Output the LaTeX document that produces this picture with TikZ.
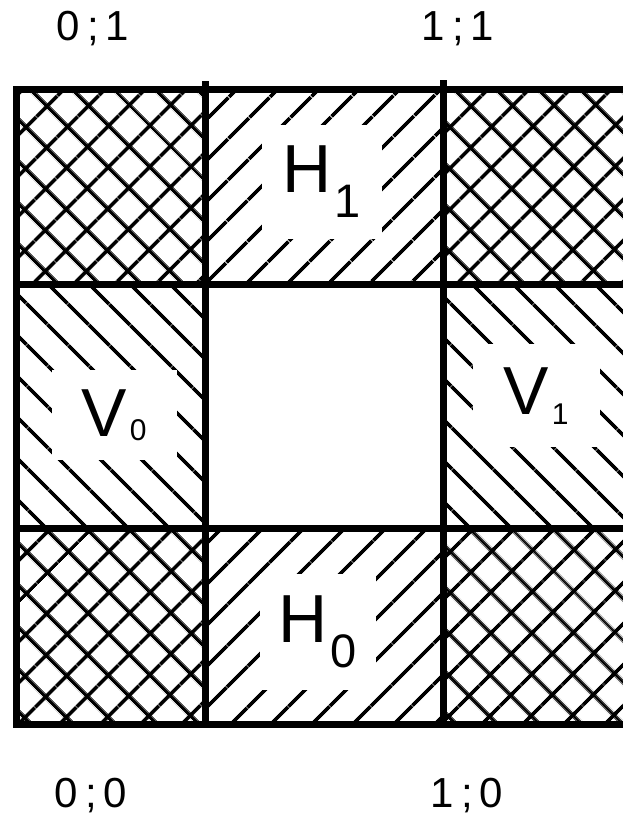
\documentclass[tikz,border=0pt]{standalone}
\usepackage{fontspec}
\setmainfont{Liberation Sans}
\usetikzlibrary{patterns.meta}
\tikzset{
  gridline/.style={line width=7pt, line cap=rect},
  crosshatch/.style={pattern={Hatch[angle=45, distance=30pt, line width=3.8pt]}},
  risehatch/.style={pattern={Lines[angle=45, distance=30pt, line width=3.8pt]}},
  fallhatch/.style={pattern={Lines[angle=-45, distance=30pt, line width=3.8pt]}},
  cellname/.style={fill=white, inner sep=0pt},
  cornerlbl/.style={font=\fontsize{42pt}{42pt}\selectfont, inner sep=0pt},
}
% letter, index, size of index, drop of index
\newcommand{\cellname}[4]{{\fontsize{68pt}{68pt}\selectfont #1}\kern3pt\raisebox{-#4}{\fontsize{#3}{#3}\selectfont #2}}

\begin{document}
\begin{tikzpicture}[x=1pt, y=1pt]
  \clip (0,0) rectangle (623,819);
  \fill[white] (0,0) rectangle (623,819);

  % grid corners
  \coordinate (nw) at (16,729);
  \coordinate (se) at (650,94);

  % corner squares
  \foreach \xa/\xb in {16/205, 443/650}
    \foreach \ya/\yb in {729/534, 290/94}
      \path[crosshatch] (\xa,\ya) rectangle (\xb,\yb);
  % horizontal and vertical strips
  \path[risehatch] (205,729) rectangle (443,534);
  \path[risehatch] (205,290) rectangle (443,94);
  \path[fallhatch] (16,534) rectangle (205,290);
  \path[fallhatch] (443,534) rectangle (650,290);

  % labels in the strips
  \node[cellname, minimum width=120pt, minimum height=114pt] (h1) at (322,637) {\cellname{H}{1}{47pt}{25pt}};
  \node[cellname, minimum width=116pt, minimum height=116pt] (h0) at (318,187) {\cellname{H}{0}{47pt}{25pt}};
  \node[cellname, minimum width=125pt, minimum height=90pt] (v0) at (114,404) {\cellname{V}{0}{30pt}{4pt}};
  \node[cellname, minimum width=127pt, minimum height=103pt] (v1) at (536,423) {\cellname{V}{1}{30pt}{10pt}};

  % grid
  \draw[gridline] (nw) rectangle (se);
  \draw[gridline] (205,734) -- (205,94);
  \draw[gridline] (443,735) -- (443,94);
  \draw[gridline] (16,534) -- (650,534);
  \draw[gridline] (16,290) -- (650,290);

  % corner values
  \node[cornerlbl] (c01) at (93,790) {0\,;\,1};
  \node[cornerlbl] (c11) at (458,790) {1\,;\,1};
  \node[cornerlbl] (c00) at (91,23) {0\,;\,0};
  \node[cornerlbl] (c10) at (467,23) {1\,;\,0};
\end{tikzpicture}
\end{document}
